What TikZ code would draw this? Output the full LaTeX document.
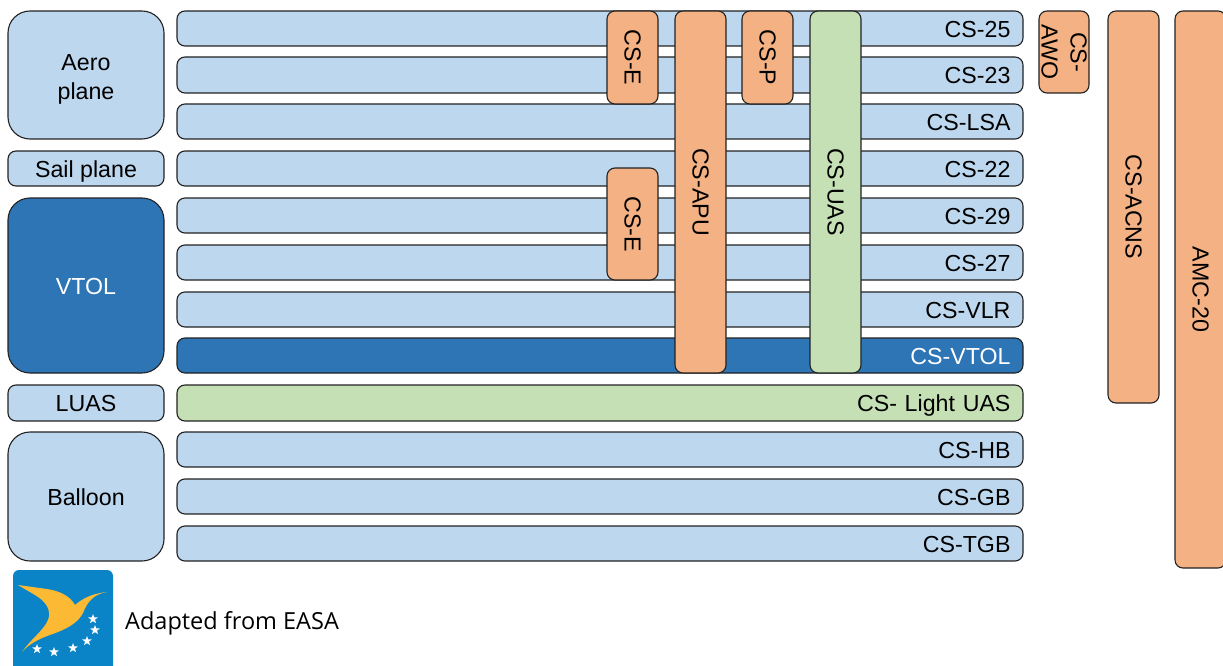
\documentclass[tikz,border=0pt]{standalone}
\usepackage{fontspec}
\setmainfont{Liberation Sans}
\newfontfamily\logofont{Open Sans}
\usetikzlibrary{shapes.geometric}
\definecolor{lblue}{HTML}{BDD7EE}
\definecolor{dblue}{HTML}{2E75B6}
\definecolor{orng}{HTML}{F4B183}
\definecolor{grn}{HTML}{C5E0B4}
\definecolor{edge}{HTML}{222222}
\definecolor{easablue}{HTML}{0A84C6}
\definecolor{easayellow}{HTML}{FBB934}
\tikzset{
  base/.style={draw=edge,line width=1.1pt,rounded corners=8pt,inner sep=0pt,outer sep=0pt,font=\fontsize{23.2}{29}\selectfont},
  lb/.style={base,fill=lblue},
  db/.style={base,fill=dblue,text=white},
  gb/.style={base,fill=grn},
  ob/.style={base,fill=orng},
  big/.style={rounded corners=22pt},
  easastar/.style={star,star points=5,star point ratio=2.4,fill=white,inner sep=0pt,minimum size=10pt},
}
\newcommand\lowered[2]{\strut\smash{\raisebox{-#1pt}{#2}}}
% name, x0, y0, x1, y1, style, text
\newcommand\rowbox[7]{\node[#6,minimum height={#5-#3},inner xsep=12.5pt,text width={#4-#2-25},align=right,anchor=center] (#1) at ({(#2+#4)/2},{(#3+#5)/2}) {\lowered{3}{#7}};}
\newcommand\sidebox[7]{\node[#6,minimum height={#5-#3},minimum width={#4-#2},align=center,anchor=center] (#1) at ({(#2+#4)/2},{(#3+#5)/2}) {#7};}
\newcommand\vertbox[7]{\node[#6,rotate=-90,minimum height={#4-#2},minimum width={#5-#3},align=center,anchor=center] (#1) at ({(#2+#4)/2},{(#3+#5)/2}) {#7};}
\begin{document}
\begin{tikzpicture}[x=1pt,y=-1pt]
\useasboundingbox (0,0) rectangle (1223,666);
\sidebox{aero}{8}{11}{164}{139}{lb,big}{\lowered{4}{Aero}\\\lowered{4}{plane}}
\sidebox{sail}{8}{151}{164}{186}{lb}{\lowered{3.5}{Sail plane}}
\sidebox{vtol}{8}{198}{164}{373}{db,big}{\lowered{3.5}{VTOL}}
\sidebox{luas}{8}{385}{164}{421}{lb}{\lowered{3}{LUAS}}
\sidebox{balloon}{8}{432}{164}{561}{lb,big}{\lowered{3.5}{Balloon}}
\rowbox{cs25}{177}{11}{1023}{46}{lb}{CS-25}
\rowbox{cs23}{177}{57}{1023}{93}{lb}{CS-23}
\rowbox{cslsa}{177}{104}{1023}{139}{lb}{CS-LSA}
\rowbox{cs22}{177}{151}{1023}{186}{lb}{CS-22}
\rowbox{cs29}{177}{198}{1023}{233}{lb}{CS-29}
\rowbox{cs27}{177}{245}{1023}{280}{lb}{CS-27}
\rowbox{csvlr}{177}{292}{1023}{327}{lb}{CS-VLR}
\rowbox{csvtol}{177}{338}{1023}{373}{db}{CS-VTOL}
\rowbox{cslight}{177}{385}{1023}{421}{gb}{CS- Light UAS}
\rowbox{cshb}{177}{432}{1023}{467}{lb}{CS-HB}
\rowbox{csgb}{177}{479}{1023}{514}{lb}{CS-GB}
\rowbox{cstgb}{177}{526}{1023}{561}{lb}{CS-TGB}
\vertbox{cse1}{607}{11}{658}{104}{ob}{CS-E}
\vertbox{cse2}{607}{168}{658}{280}{ob}{CS-E}
\vertbox{csapu}{675}{11}{726}{373}{ob}{CS-APU}
\vertbox{csp}{742}{11}{793}{104}{ob}{CS-P}
\vertbox{csuas}{810}{11}{861}{373}{gb}{CS-UAS}
\vertbox{csawo}{1039}{11}{1089}{93}{ob}{CS-\\AWO}
\vertbox{csacns}{1108}{11}{1159}{403}{ob}{CS-ACNS}
\vertbox{amc}{1175}{11}{1226}{568}{ob}{AMC-20}
% logo
\fill[easablue,rounded corners=6pt] (13,570) rectangle (113,672);
\fill[easayellow] (18,585) -- (47,589) .. controls (60,591) and (70,596) .. (75,605)
  .. controls (80,601) and (88,594) .. (107,592)
  .. controls (95,594) and (88,600) .. (83,613)
  .. controls (78,622) and (70,628) .. (50,635)
  .. controls (38,639) and (28,645) .. (22,652)
  .. controls (30,640) and (44,630) .. (48,620)
  .. controls (51,612) and (48,606) .. (42,600)
  .. controls (36,595) and (26,590) .. (18,585) -- cycle;
\node[easastar] (s1) at (93,619) {};
\node[easastar] (s2) at (95,630) {};
\node[easastar] (s3) at (87,641) {};
\node[easastar] (s4) at (73,648) {};
\node[easastar] (s5) at (54,652) {};
\node[easastar] (s6) at (37,649) {};
\node[anchor=west,inner sep=0pt,font=\logofont\fontsize{23.5}{26}\selectfont] (credit) at (125,623) {Adapted from EASA};
\end{tikzpicture}
\end{document}
